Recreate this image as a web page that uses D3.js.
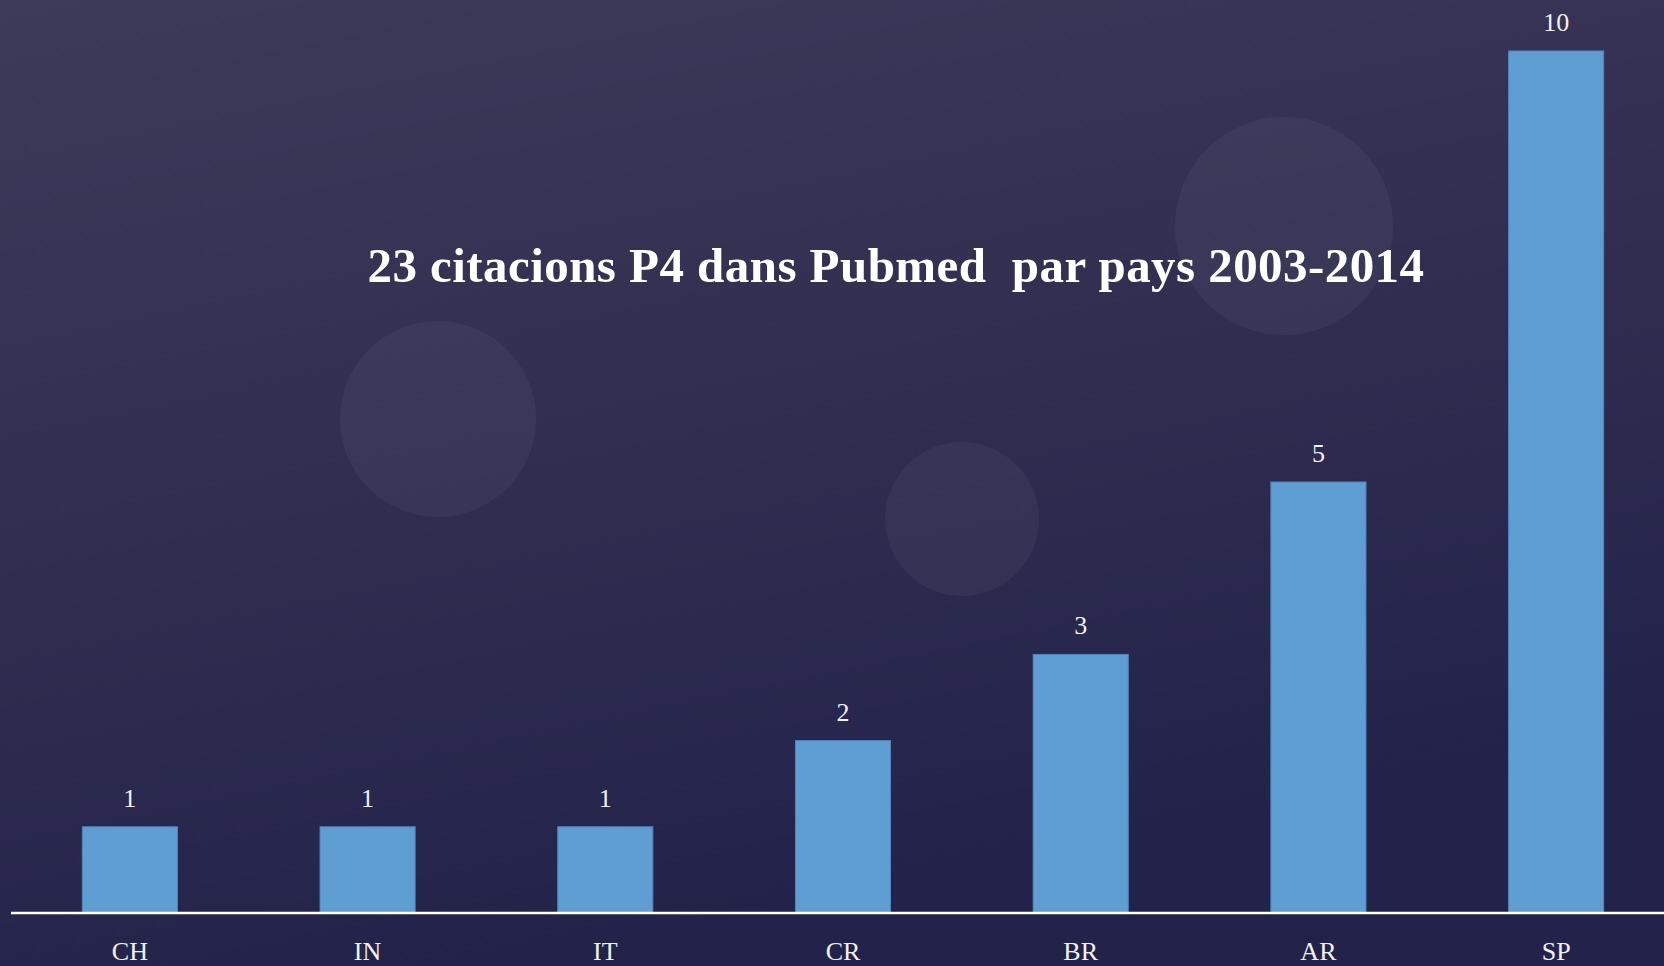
<!DOCTYPE html>
<html>
<head>
<meta charset="utf-8">
<script src="https://cdn.jsdelivr.net/npm/d3@7"></script>
<style>
  html, body { margin: 0; padding: 0; overflow: hidden; background: #2c2a4d; }
  svg { display: block; }
</style>
</head>
<body>
<script>
 // data
 var countries = ["CH", "IN", "IT", "CR", "BR", "AR", "SP"];
 var citations = [1, 1, 1, 2, 3, 5, 10];
 var title = "23 citacions P4 dans Pubmed  par pays 2003-2014";

 // decorative background discs (centre x, centre y, radius)
 var discX = [438, 962, 1284];
 var discY = [419, 519, 226];
 var discR = [98, 77, 109];

 var width = 1664,
     height = 966;

 var svg = d3.select("body")
     .append("svg")
     .attr("width", width)
     .attr("height", height);

 // background gradient
 var defs = svg.append("defs");
 var grad = defs.append("linearGradient")
     .attr("id", "bg")
     .attr("x1", "0").attr("y1", "0")
     .attr("x2", "0.35").attr("y2", "1");
 grad.append("stop").attr("offset", "0%").attr("stop-color", "#3e3a59");
 grad.append("stop").attr("offset", "55%").attr("stop-color", "#302d50");
 grad.append("stop").attr("offset", "100%").attr("stop-color", "#22224a");

 svg.append("rect")
     .attr("width", width)
     .attr("height", height)
     .attr("fill", "url(#bg)");

 svg.append("g")
     .selectAll("circle")
     .data(discX)
     .enter()
     .append("circle")
     .attr("cx", function(d) { return d; })
     .attr("cy", function(d, i) { return discY[i]; })
     .attr("r", function(d, i) { return discR[i]; })
     .attr("fill", "#ffffff")
     .attr("fill-opacity", 0.045);

 //Scales
 var x = d3.scaleBand()
     .domain(countries)
     .range([11, 1675])
     .paddingInner(0.6)
     .paddingOuter(0.3);

 var y = d3.scaleLinear()
     .domain([0, 10])
     .range([913, 51]);

 //Bars
 svg.append("g")
     .selectAll("rect")
     .data(citations)
     .enter()
     .append("rect")
     .attr("x", function(d, i) { return x(countries[i]); })
     .attr("y", function(d) { return y(d); })
     .attr("width", x.bandwidth())
     .attr("height", function(d) { return y(0) - y(d); })
     .attr("fill", "#5f9ed3")
     .attr("stroke", "#5285bd")
     .attr("stroke-width", 1);

 //Value labels
 svg.append("g")
     .selectAll("text")
     .data(citations)
     .enter()
     .append("text")
     .attr("x", function(d, i) { return x(countries[i]) + x.bandwidth() / 2; })
     .attr("y", function(d) { return y(d) - 20; })
     .attr("text-anchor", "middle")
     .attr("font-family", "'Palatino Linotype', 'Book Antiqua', 'Liberation Serif', serif")
     .attr("font-size", 26)
     .attr("fill", "#f2f2f2")
     .text(function(d) { return d; });

 //Category axis
 var xAxis = d3.axisBottom(x).tickSize(0).tickPadding(0);
 var axisG = svg.append("g")
     .attr("transform", "translate(0," + y(0) + ")")
     .call(xAxis);
 axisG.select(".domain")
     .attr("d", "M11,0H" + width)
     .attr("stroke", "#ffffff")
     .attr("stroke-width", 2.5);
 axisG.selectAll("text")
     .attr("dy", 0)
     .attr("y", 47)
     .attr("font-family", "'Palatino Linotype', 'Book Antiqua', 'Liberation Serif', serif")
     .attr("font-size", 26)
     .attr("fill", "#f2f2f2");

 //Title
 var t = svg.append("text")
     .attr("x", 896)
     .attr("y", 282)
     .attr("text-anchor", "middle")
     .style("white-space", "pre")
     .attr("font-family", "'Palatino Linotype', 'Book Antiqua', 'Liberation Serif', serif")
     .attr("font-weight", "bold")
     .attr("font-size", 49)
     .attr("fill", "#ffffff")
     .text(title);
 var w = t.node().getComputedTextLength();
 t.attr("letter-spacing", (1057 - w) / title.length);
</script>
</body>
</html>
